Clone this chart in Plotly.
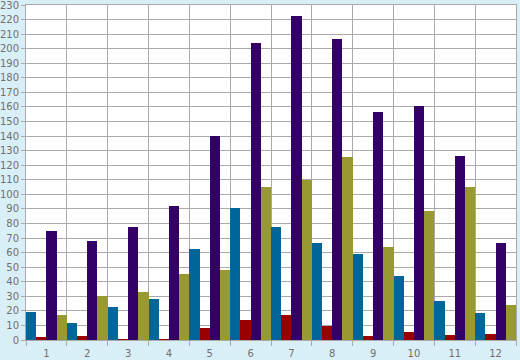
import plotly.graph_objects as go

categories = [str(i) for i in range(1, 13)]
blue_vals = [19, 12, 23, 28, 62.5, 90.5, 77.5, 66.5, 59, 44, 27, 18.5]
red_vals = [2, 3, 0.5, 0.5, 8, 13.5, 17.5, 9.5, 2.5, 5.5, 3.5, 4]
purple_vals = [75, 68, 77.5, 92, 140, 204, 222.5, 207, 156.5, 160.5, 126.5, 66.5]
olive_vals = [17, 30, 33, 45, 48, 105, 110, 125.5, 64, 88.5, 105, 24]

series = [
    (blue_vals, "#006699"),
    (red_vals, "#990000"),
    (purple_vals, "#330066"),
    (olive_vals, "#999933"),
]

fig = go.Figure()
for vals, color in series:
    fig.add_trace(go.Bar(x=categories, y=vals, marker=dict(color=color, line=dict(width=0)),
                         showlegend=False))

axis_common = dict(showgrid=True, gridcolor="#aaaaaa", gridwidth=1,
                   showline=True, linecolor="#aaaaaa", linewidth=1, mirror=True,
                   ticks="outside", tickcolor="#aaaaaa", automargin=False,
                   ticklabeloverflow="allow",
                   tickfont=dict(family="DejaVu Sans", size=10, color="#707070"),
                   zeroline=False)

fig.update_layout(
    width=520, height=360,
    margin=dict(l=26, r=4, t=5, b=20),
    paper_bgcolor="#d9eff7",
    plot_bgcolor="#ffffff",
    barmode="group", bargap=0, bargroupgap=0,
    xaxis=dict(**axis_common, tickson="boundaries", type="category", ticklen=5,
               ticklabelstandoff=4),
    yaxis=dict(**axis_common, range=[0, 230], dtick=10, ticklen=4),
)

fig.write_html("out.html", config={"displayModeBar": False},
               post_script="document.body.style.margin='0';document.body.style.padding='0';")
